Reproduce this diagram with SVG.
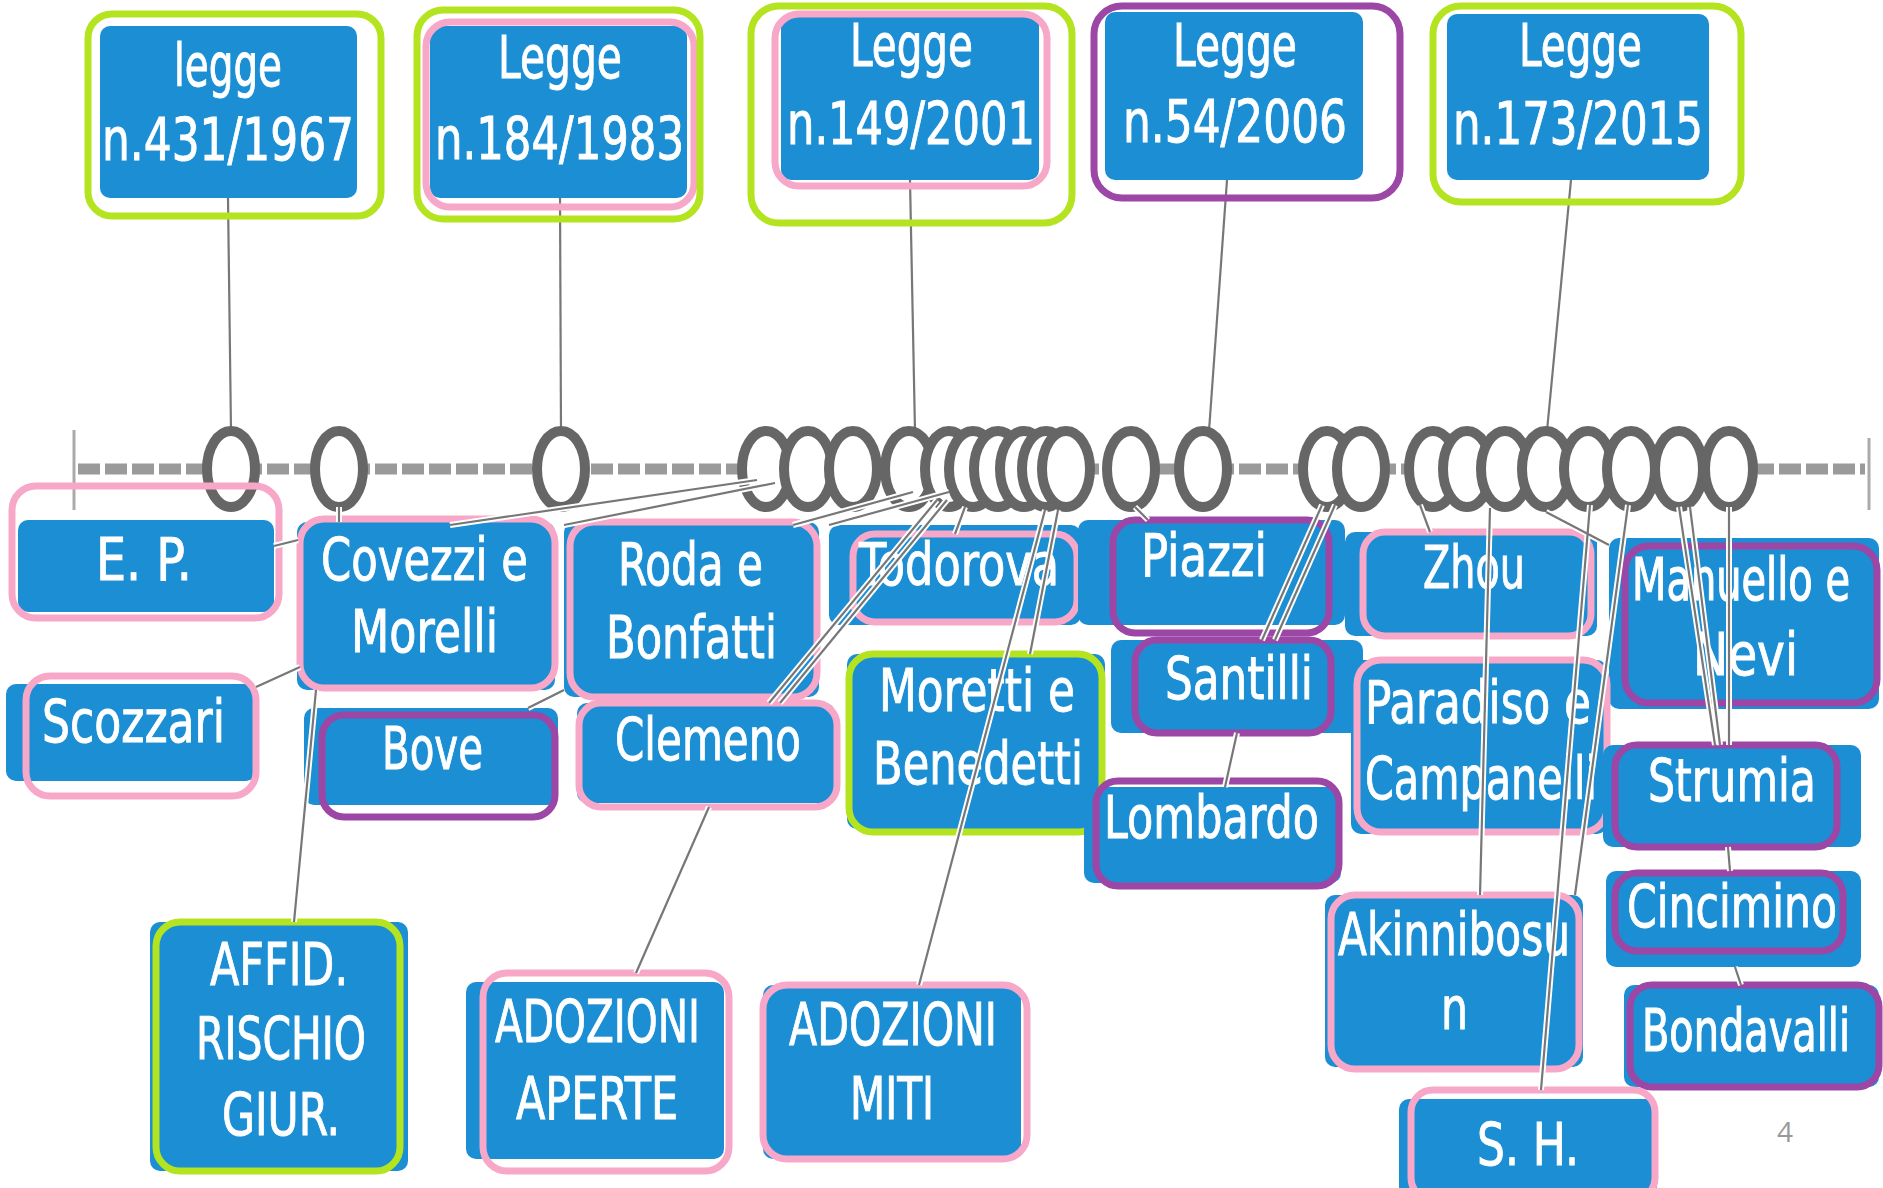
<svg xmlns="http://www.w3.org/2000/svg" width="1883" height="1188" viewBox="0 0 1883 1188">
<defs>
<style>
.bx{fill:#1b8ed4}
.op{fill:none;stroke:#f7a8c8;stroke-width:7}
.og{fill:none;stroke:#b4e41f;stroke-width:7}
.ou{fill:none;stroke:#9c46a6;stroke-width:7}
.t{font-family:"DejaVu Sans Condensed","DejaVu Sans",sans-serif;font-size:58px;fill:#ffffff;stroke:#ffffff;stroke-width:0.9}
.circ{fill:#ffffff;stroke:#666666;stroke-width:10}
.halo{stroke:#ffffff;stroke-width:6;fill:none}
.ln{stroke:#777777;stroke-width:2.2;fill:none}
</style>
</defs>
<rect width="1883" height="1188" fill="#ffffff"/>
<g id="timeline">
<line x1="78" y1="469" x2="1865" y2="469" stroke="#9a9a9a" stroke-width="11" stroke-dasharray="22 5"/>
<line x1="74" y1="430" x2="74" y2="510" stroke="#aaaaaa" stroke-width="3"/>
<line x1="1869" y1="438" x2="1869" y2="510" stroke="#aaaaaa" stroke-width="3"/>
</g>
<g id="connectors-top">
<g class="ln">
<line x1="228" y1="198" x2="231" y2="431"/>
<line x1="560" y1="198" x2="561" y2="431"/>
<line x1="910" y1="180" x2="915" y2="431"/>
<line x1="1227" y1="180" x2="1209" y2="431"/>
<line x1="1571" y1="180" x2="1547" y2="431"/>
</g>
</g>
<g id="events">
<ellipse class="circ" cx="231" cy="469" rx="24" ry="38"/>
<ellipse class="circ" cx="339" cy="469" rx="24" ry="38"/>
<ellipse class="circ" cx="561" cy="469" rx="24" ry="38"/>
<ellipse class="circ" cx="766" cy="469" rx="24" ry="38"/>
<ellipse class="circ" cx="808" cy="469" rx="24" ry="38"/>
<ellipse class="circ" cx="853" cy="469" rx="24" ry="38"/>
<ellipse class="circ" cx="909" cy="469" rx="24" ry="38"/>
<ellipse class="circ" cx="949" cy="469" rx="24" ry="38"/>
<ellipse class="circ" cx="973" cy="469" rx="24" ry="38"/>
<ellipse class="circ" cx="998" cy="469" rx="24" ry="38"/>
<ellipse class="circ" cx="1024" cy="469" rx="24" ry="38"/>
<ellipse class="circ" cx="1046" cy="469" rx="24" ry="38"/>
<ellipse class="circ" cx="1066" cy="469" rx="24" ry="38"/>
<ellipse class="circ" cx="1131" cy="469" rx="24" ry="38"/>
<ellipse class="circ" cx="1203" cy="469" rx="24" ry="38"/>
<ellipse class="circ" cx="1327" cy="469" rx="24" ry="38"/>
<ellipse class="circ" cx="1361" cy="469" rx="24" ry="38"/>
<ellipse class="circ" cx="1433" cy="469" rx="24" ry="38"/>
<ellipse class="circ" cx="1467" cy="469" rx="24" ry="38"/>
<ellipse class="circ" cx="1505" cy="469" rx="24" ry="38"/>
<ellipse class="circ" cx="1546" cy="469" rx="24" ry="38"/>
<ellipse class="circ" cx="1588" cy="469" rx="24" ry="38"/>
<ellipse class="circ" cx="1631" cy="469" rx="24" ry="38"/>
<ellipse class="circ" cx="1679" cy="469" rx="24" ry="38"/>
<ellipse class="circ" cx="1729" cy="469" rx="24" ry="38"/>
</g>
<g id="law1967"><rect class="bx" x="100" y="26" width="257" height="172" rx="10"/><rect class="og" x="88" y="14" width="293" height="202" rx="24"/>
<text class="t" x="174" y="86" textLength="108" lengthAdjust="spacingAndGlyphs">legge</text><text class="t" x="102" y="160" textLength="252" lengthAdjust="spacingAndGlyphs">n.431/1967</text></g>
<g id="law1983"><rect class="bx" x="430" y="26" width="257" height="172" rx="10"/><rect class="op" x="426" y="22" width="268" height="185" rx="24"/><rect class="og" x="417" y="10" width="283" height="209" rx="26"/>
<text class="t" x="498" y="78" textLength="124" lengthAdjust="spacingAndGlyphs">Legge</text><text class="t" x="435" y="159" textLength="249" lengthAdjust="spacingAndGlyphs">n.184/1983</text></g>
<g id="law2001"><rect class="bx" x="781" y="14" width="258" height="166" rx="10"/><rect class="op" x="775" y="14" width="272" height="172" rx="24"/><rect class="og" x="751" y="6" width="321" height="217" rx="28"/>
<text class="t" x="850" y="66" textLength="123" lengthAdjust="spacingAndGlyphs">Legge</text><text class="t" x="787" y="144" textLength="248" lengthAdjust="spacingAndGlyphs">n.149/2001</text></g>
<g id="law2006"><rect class="bx" x="1105" y="12" width="258" height="168" rx="10"/><rect class="ou" x="1094" y="6" width="306" height="192" rx="28"/>
<text class="t" x="1173" y="66" textLength="124" lengthAdjust="spacingAndGlyphs">Legge</text><text class="t" x="1123" y="142" textLength="224" lengthAdjust="spacingAndGlyphs">n.54/2006</text></g>
<g id="law2015"><rect class="bx" x="1447" y="14" width="262" height="166" rx="10"/><rect class="og" x="1433" y="6" width="308" height="196" rx="28"/>
<text class="t" x="1519" y="66" textLength="123" lengthAdjust="spacingAndGlyphs">Legge</text><text class="t" x="1453" y="144" textLength="250" lengthAdjust="spacingAndGlyphs">n.173/2015</text></g>
<g id="ep"><rect class="bx" x="18" y="520" width="256" height="92" rx="10"/><rect class="op" x="12" y="486" width="267" height="132" rx="24"/>
<text class="t" x="96" y="580" textLength="96" lengthAdjust="spacingAndGlyphs">E. P.</text></g>
<g id="covezzi"><rect class="bx" x="297" y="522" width="258" height="168" rx="10"/><rect class="op" x="300" y="519" width="255" height="169" rx="24"/>
<text class="t" x="321" y="580" textLength="207" lengthAdjust="spacingAndGlyphs">Covezzi e</text><text class="t" x="351" y="652" textLength="147" lengthAdjust="spacingAndGlyphs">Morelli</text></g>
<g id="roda"><rect class="bx" x="564" y="522" width="255" height="175" rx="10"/><rect class="op" x="570" y="522" width="247" height="175" rx="24"/>
<text class="t" x="618" y="585" textLength="145" lengthAdjust="spacingAndGlyphs">Roda e</text><text class="t" x="606" y="658" textLength="171" lengthAdjust="spacingAndGlyphs">Bonfatti</text></g>
<g id="todorova"><rect class="bx" x="829" y="525" width="252" height="100" rx="10"/><rect class="op" x="853" y="534" width="224" height="88" rx="22"/>
<text class="t" x="859" y="585" textLength="200" lengthAdjust="spacingAndGlyphs">Todorova</text></g>
<g id="piazzi"><rect class="bx" x="1078" y="520" width="267" height="105" rx="10"/><rect class="ou" x="1113" y="520" width="216" height="113" rx="22"/>
<text class="t" x="1141" y="576" textLength="126" lengthAdjust="spacingAndGlyphs">Piazzi</text></g>
<g id="zhou"><rect class="bx" x="1345" y="532" width="252" height="104" rx="10"/><rect class="op" x="1363" y="532" width="228" height="104" rx="22"/>
<text class="t" x="1423" y="588" textLength="102" lengthAdjust="spacingAndGlyphs">Zhou</text></g>
<g id="manuello"><rect class="bx" x="1609" y="538" width="270" height="171" rx="10"/><rect class="ou" x="1625" y="546" width="252" height="157" rx="24"/>
<text class="t" style="font-size:46px" transform="translate(1632,600) scale(1,1.26)" x="0" y="0" textLength="218" lengthAdjust="spacingAndGlyphs">Manuello e</text><text class="t" x="1693" y="675" textLength="105" lengthAdjust="spacingAndGlyphs">Nevi</text></g>
<g id="scozzari"><rect class="bx" x="6" y="684" width="250" height="97" rx="10"/><rect class="op" x="26" y="676" width="230" height="120" rx="24"/>
<text class="t" x="42" y="742" textLength="183" lengthAdjust="spacingAndGlyphs">Scozzari</text></g>
<g id="bove"><rect class="bx" x="304" y="708" width="254" height="97" rx="10"/><rect class="ou" x="322" y="715" width="233" height="102" rx="22"/>
<text class="t" x="382" y="769" textLength="101" lengthAdjust="spacingAndGlyphs">Bove</text></g>
<g id="clemeno"><rect class="bx" x="577" y="703" width="258" height="100" rx="10"/><rect class="op" x="579" y="703" width="258" height="104" rx="22"/>
<text class="t" x="615" y="760" textLength="186" lengthAdjust="spacingAndGlyphs">Clemeno</text></g>
<g id="moretti"><rect class="bx" x="847" y="654" width="258" height="175" rx="10"/><rect class="og" x="849" y="654" width="253" height="178" rx="24"/>
<text class="t" x="879" y="711" textLength="196" lengthAdjust="spacingAndGlyphs">Moretti e</text><text class="t" x="873" y="784" textLength="210" lengthAdjust="spacingAndGlyphs">Benedetti</text></g>
<g id="santilli"><rect class="bx" x="1111" y="640" width="252" height="93" rx="10"/><rect class="ou" x="1135" y="640" width="196" height="93" rx="22"/>
<text class="t" x="1165" y="699" textLength="148" lengthAdjust="spacingAndGlyphs">Santilli</text></g>
<g id="paradiso"><rect class="bx" x="1351" y="660" width="256" height="174" rx="10"/><rect class="op" x="1357" y="660" width="250" height="172" rx="24"/>
<text class="t" x="1365" y="723" textLength="226" lengthAdjust="spacingAndGlyphs">Paradiso e</text><text class="t" x="1365" y="799" textLength="232" lengthAdjust="spacingAndGlyphs">Campanelli</text></g>
<g id="strumia"><rect class="bx" x="1603" y="745" width="258" height="102" rx="10"/><rect class="ou" x="1615" y="745" width="222" height="102" rx="22"/>
<text class="t" x="1648" y="801" textLength="168" lengthAdjust="spacingAndGlyphs">Strumia</text></g>
<g id="lombardo"><rect class="bx" x="1084" y="787" width="257" height="96" rx="10"/><rect class="ou" x="1096" y="781" width="243" height="105" rx="22"/>
<text class="t" x="1104" y="838" textLength="215" lengthAdjust="spacingAndGlyphs">Lombardo</text></g>
<g id="akinnibosun"><rect class="bx" x="1325" y="895" width="258" height="172" rx="10"/><rect class="op" x="1331" y="895" width="248" height="174" rx="24"/>
<text class="t" x="1338" y="955" textLength="232" lengthAdjust="spacingAndGlyphs">Akinnibosu</text><text class="t" x="1441" y="1029" textLength="27" lengthAdjust="spacingAndGlyphs">n</text></g>
<g id="cincimino"><rect class="bx" x="1606" y="871" width="255" height="96" rx="10"/><rect class="ou" x="1615" y="873" width="228" height="78" rx="22"/>
<text class="t" x="1627" y="927" textLength="210" lengthAdjust="spacingAndGlyphs">Cincimino</text></g>
<g id="bondavalli"><rect class="bx" x="1624" y="985" width="255" height="102" rx="10"/><rect class="ou" x="1630" y="985" width="249" height="102" rx="22"/>
<text class="t" style="font-size:46px" transform="translate(1642,1051) scale(1,1.26)" x="0" y="0" textLength="208" lengthAdjust="spacingAndGlyphs">Bondavalli</text></g>
<g id="affid"><rect class="bx" x="150" y="922" width="258" height="249" rx="10"/><rect class="og" x="156" y="922" width="244" height="249" rx="24"/>
<text class="t" x="210" y="985" textLength="138" lengthAdjust="spacingAndGlyphs">AFFID.</text><text class="t" x="196" y="1059" textLength="170" lengthAdjust="spacingAndGlyphs">RISCHIO</text><text class="t" x="222" y="1135" textLength="118" lengthAdjust="spacingAndGlyphs">GIUR.</text></g>
<g id="adozioni-aperte"><rect class="bx" x="466" y="982" width="258" height="177" rx="10"/><rect class="op" x="483" y="973" width="246" height="198" rx="24"/>
<text class="t" x="495" y="1042" textLength="205" lengthAdjust="spacingAndGlyphs">ADOZIONI</text><text class="t" x="516" y="1119" textLength="162" lengthAdjust="spacingAndGlyphs">APERTE</text></g>
<g id="adozioni-miti"><rect class="bx" x="763" y="985" width="258" height="174" rx="10"/><rect class="op" x="763" y="985" width="264" height="174" rx="24"/>
<text class="t" x="789" y="1045" textLength="208" lengthAdjust="spacingAndGlyphs">ADOZIONI</text><text class="t" x="850" y="1119" textLength="84" lengthAdjust="spacingAndGlyphs">MITI</text></g>
<g id="sh"><rect class="bx" x="1399" y="1099" width="258" height="101" rx="10"/><rect class="op" x="1411" y="1090" width="244" height="110" rx="22"/>
<text class="t" x="1477" y="1165" textLength="102" lengthAdjust="spacingAndGlyphs">S. H.</text></g>
<g id="connectors">
<g class="halo">
<line x1="339" y1="507" x2="339" y2="522"/>
<line x1="274" y1="546" x2="298" y2="540"/>
<line x1="256" y1="687" x2="300" y2="667"/>
<line x1="316" y1="690" x2="294" y2="922"/>
<line x1="757" y1="480" x2="450" y2="525"/>
<line x1="775" y1="483" x2="564" y2="525"/>
<line x1="913" y1="492" x2="793" y2="525"/>
<line x1="949" y1="492" x2="829" y2="525"/>
<line x1="564" y1="690" x2="528" y2="708"/>
<line x1="937" y1="500" x2="769" y2="703"/>
<line x1="947" y1="500" x2="780" y2="703"/>
<line x1="709" y1="807" x2="636" y2="973"/>
<line x1="1045" y1="510" x2="919" y2="985"/>
<line x1="1058" y1="510" x2="1030" y2="654"/>
<line x1="965" y1="507" x2="955" y2="534"/>
<line x1="1135" y1="507" x2="1148" y2="520"/>
<line x1="1322" y1="505" x2="1262" y2="640"/>
<line x1="1335" y1="505" x2="1275" y2="640"/>
<line x1="1237" y1="733" x2="1225" y2="787"/>
<line x1="1420" y1="505" x2="1430" y2="532"/>
<line x1="1490" y1="508" x2="1480" y2="895"/>
<line x1="1590" y1="505" x2="1541" y2="1090"/>
<line x1="1628" y1="505" x2="1575" y2="895"/>
<line x1="1546" y1="512" x2="1609" y2="545"/>
<line x1="1679" y1="507" x2="1715" y2="745"/>
<line x1="1690" y1="507" x2="1720" y2="745"/>
<line x1="1729" y1="507" x2="1729" y2="745"/>
<line x1="1728" y1="847" x2="1730" y2="871"/>
<line x1="1735" y1="967" x2="1741" y2="985"/>
</g>
<g class="ln">
<line x1="339" y1="507" x2="339" y2="522"/>
<line x1="274" y1="546" x2="298" y2="540"/>
<line x1="256" y1="687" x2="300" y2="667"/>
<line x1="316" y1="690" x2="294" y2="922"/>
<line x1="757" y1="480" x2="450" y2="525"/>
<line x1="775" y1="483" x2="564" y2="525"/>
<line x1="913" y1="492" x2="793" y2="525"/>
<line x1="949" y1="492" x2="829" y2="525"/>
<line x1="564" y1="690" x2="528" y2="708"/>
<line x1="937" y1="500" x2="769" y2="703"/>
<line x1="947" y1="500" x2="780" y2="703"/>
<line x1="709" y1="807" x2="636" y2="973"/>
<line x1="1045" y1="510" x2="919" y2="985"/>
<line x1="1058" y1="510" x2="1030" y2="654"/>
<line x1="965" y1="507" x2="955" y2="534"/>
<line x1="1135" y1="507" x2="1148" y2="520"/>
<line x1="1322" y1="505" x2="1262" y2="640"/>
<line x1="1335" y1="505" x2="1275" y2="640"/>
<line x1="1237" y1="733" x2="1225" y2="787"/>
<line x1="1420" y1="505" x2="1430" y2="532"/>
<line x1="1490" y1="508" x2="1480" y2="895"/>
<line x1="1590" y1="505" x2="1541" y2="1090"/>
<line x1="1628" y1="505" x2="1575" y2="895"/>
<line x1="1546" y1="512" x2="1609" y2="545"/>
<line x1="1679" y1="507" x2="1715" y2="745"/>
<line x1="1690" y1="507" x2="1720" y2="745"/>
<line x1="1729" y1="507" x2="1729" y2="745"/>
<line x1="1728" y1="847" x2="1730" y2="871"/>
<line x1="1735" y1="967" x2="1741" y2="985"/>
</g>
</g>
<text x="1777" y="1142" font-family="Open Sans, Liberation Sans, sans-serif" font-size="28" fill="#999999">4</text>
</svg>
